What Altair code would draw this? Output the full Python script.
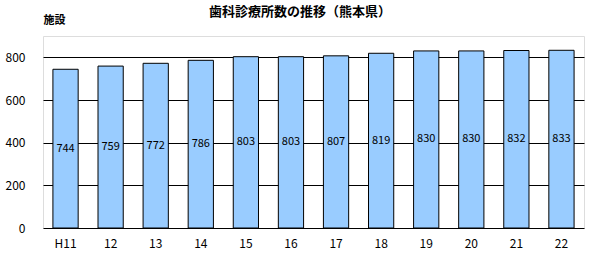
import altair as alt
import pandas as pd

years = ["H11", "12", "13", "14", "15", "16", "17", "18", "19", "20", "21", "22"]
counts = [744, 759, 772, 786, 803, 803, 807, 819, 830, 830, 832, 833]
title_text = "歯科診療所数の推移（熊本県）"

df = pd.DataFrame({"year": years, "count": counts})
df["half"] = df["count"] / 2

FONT = "Noto Sans CJK JP"

base = alt.Chart(df)

bars = base.mark_bar(color="#99CCFF", stroke="black", strokeWidth=1).encode(
    x=alt.X("year:N", sort=years, title=None,
            scale=alt.Scale(paddingInner=0.44, paddingOuter=0.22),
            axis=alt.Axis(labelAngle=0, ticks=False, domain=False, labelPadding=10,
                          labelFontSize=12, labelColor="black", labelFont=FONT)),
    y=alt.Y("count:Q", title="施設",
            scale=alt.Scale(domain=[0, 900], nice=False),
            axis=alt.Axis(values=[0, 200, 400, 600, 800], ticks=False, domain=False,
                          grid=True, gridColor="black", gridWidth=1, gridOpacity=1,
                          labelPadding=18, labelFontSize=12, labelColor="black", labelFont=FONT,
                          titleAngle=0, titleAlign="left", titleBaseline="middle",
                          titleX=0, titleY=-16, titleFontSize=11, titleFontWeight="bold",
                          titleFont=FONT, titleColor="black")),
)

labels = base.mark_text(fontSize=11, color="black", font=FONT, baseline="middle").encode(
    x=alt.X("year:N", sort=years),
    y=alt.Y("half:Q"),
    text=alt.Text("count:Q"),
)

title = alt.Chart(pd.DataFrame({"t": [title_text]})).mark_text(
    fontSize=13, fontWeight="bold", font=FONT, color="black", baseline="middle", align="center"
).encode(x=alt.value(257), y=alt.value(-24), text="t:N")

chart = (bars + labels + title).properties(
    width=541, height=192,
    autosize=alt.AutoSizeParams(type="none"),
    padding={"left": 43, "top": 36, "right": 9, "bottom": 28},
).configure_view(stroke="black", strokeWidth=1).configure(background="white")

chart.save("out.html", embed_options={"renderer": "svg", "actions": False})
